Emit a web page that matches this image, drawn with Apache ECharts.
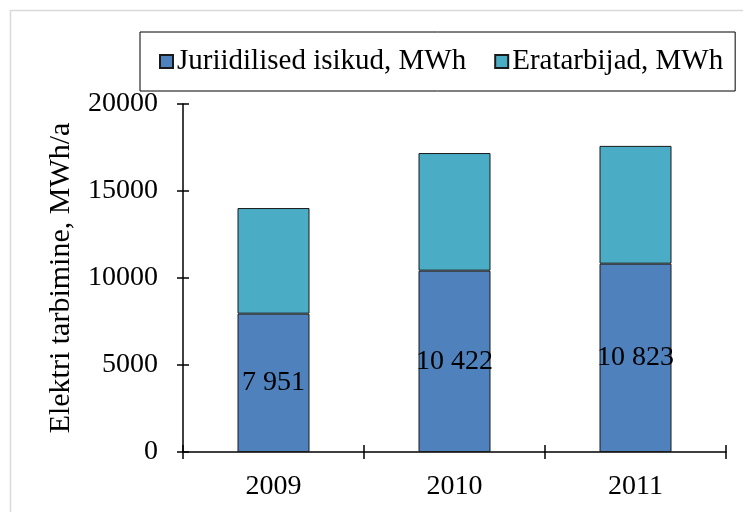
<!DOCTYPE html>
<html><head><meta charset="utf-8">
<script src="https://cdn.jsdelivr.net/npm/echarts@6/dist/echarts.min.js"></script>
<style>html,body{margin:0;padding:0;background:#fff}#c{width:743px;height:512px}</style>
</head><body><div id="c"></div>
<script>
const categories = ['2009', '2010', '2011'];
const juriidilised = [7951, 10422, 10823];
const eratarbijad = [6070, 6760, 6770];
const seriesNames = ['Juriidilised isikud, MWh', 'Eratarbijad, MWh'];
const yAxisName = 'Elektri tarbimine, MWh/a';

const font = 'Liberation Serif';
const chart = echarts.init(document.getElementById('c'));
const fmt = v => String(v).replace(/\B(?=(\d{3})+(?!\d))/g, ' ');
chart.setOption({
  animation: false,
  graphic: [{type: 'rect', shape: {x: 10.5, y: 10.5, width: 800, height: 600}, style: {fill: 'none', stroke: '#d9d9d9', lineWidth: 1.5}, z: -10}],
  legend: {
    top: 32, left: 140,
    padding: [15, 12, 15, 19],
    borderColor: '#000', borderWidth: 1,
    itemWidth: 13, itemHeight: 13, itemGap: 28,
    icon: 'rect',
    textStyle: {fontFamily: font, fontSize: 29, color: '#000', padding: [0, 0, 0, -1]},
    data: seriesNames
  },
  grid: {left: 183, right: 17, top: 104, bottom: 60},
  xAxis: [{
    type: 'category', data: categories,
    axisLine: {lineStyle: {color: '#000', width: 1.5}},
    axisTick: {show: true, length: 7, lineStyle: {color: '#000', width: 1.5}},
    axisLabel: {fontFamily: font, fontSize: 28, color: '#000', margin: 21}
  }, {
    type: 'category', data: categories, position: 'bottom',
    axisLine: {show: false},
    axisTick: {show: true, inside: true, length: 7, lineStyle: {color: '#000', width: 1.5}},
    axisLabel: {show: false}
  }],
  yAxis: [{
    type: 'value', min: 0, max: 20000, interval: 5000,
    name: yAxisName, nameLocation: 'middle', nameGap: 107,
    nameTextStyle: {fontFamily: font, fontSize: 30, color: '#000'},
    axisLine: {show: true, lineStyle: {color: '#000', width: 1.5}},
    axisTick: {show: true, length: 6, lineStyle: {color: '#000', width: 1.5}},
    splitLine: {show: false},
    axisLabel: {fontFamily: font, fontSize: 28, color: '#000', margin: 25, formatter: v => String(v)}
  }, {
    type: 'value', min: 0, max: 20000, interval: 5000, position: 'left',
    axisLine: {show: false},
    axisTick: {show: true, inside: true, length: 6, lineStyle: {color: '#000', width: 1.5}},
    splitLine: {show: false},
    axisLabel: {show: false}
  }],
  series: [{
    name: seriesNames[0], type: 'bar', stack: 't', data: juriidilised, barWidth: 72,
    itemStyle: {color: '#4F81BD', borderColor: '#1a1a1a', borderWidth: 1},
    label: {show: true, position: 'inside', formatter: p => fmt(p.value), fontFamily: font, fontSize: 28, color: '#000'}
  }, {
    name: seriesNames[1], type: 'bar', stack: 't', data: eratarbijad, barWidth: 72,
    itemStyle: {color: '#4BACC6', borderColor: '#1a1a1a', borderWidth: 1}
  }]
});
</script></body></html>
